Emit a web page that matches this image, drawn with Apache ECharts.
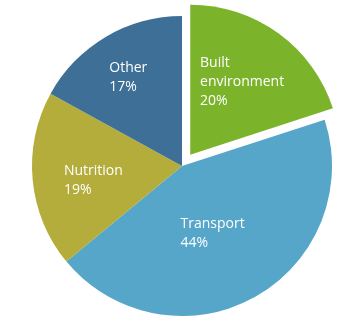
<!DOCTYPE html>
<html><head><meta charset="utf-8">
<script src="https://cdn.jsdelivr.net/npm/echarts@6/dist/echarts.min.js"></script>
<style>html,body{margin:0;padding:0;background:#fff}#c{width:338px;height:333px}</style>
</head><body><div id="c"></div>
<script>
const categories = ['Built\nenvironment', 'Transport', 'Nutrition', 'Other'];
const values = [20, 44, 19, 17];
const colors = ['#7bb42b', '#56a6c9', '#b4ad3b', '#3d6f97'];
const labelOffsets = [[6, -10], [-7, -1], [-11, 7], [-14, -21]];

const chart = echarts.init(document.getElementById('c'), null, {renderer: 'canvas'});
chart.setOption({
  animation: false,
  series: [{
    type: 'pie',
    center: [182, 166],
    radius: 150,
    startAngle: 90,
    clockwise: true,
    selectedMode: 'single',
    selectedOffset: 14,
    avoidLabelOverlap: false,
    emphasis: {disabled: true},
    label: {
      show: true,
      position: 'inside',
      color: '#ffffff',
      fontFamily: 'Open Sans',
      fontSize: 14,
      lineHeight: 19,
      formatter: p => '{a|' + p.name.split('\n').join('}\n{a|') + '}\n{a|' + p.value + '%}',
      rich: {a: {color: '#ffffff', fontFamily: 'Open Sans', fontSize: 14, lineHeight: 19, align: 'left'}}
    },
    labelLine: {show: false},
    data: categories.map((c, i) => ({
      name: c,
      value: values[i],
      selected: i === 0,
      itemStyle: {color: colors[i]},
      label: {offset: labelOffsets[i]},
      select: {itemStyle: {color: colors[i]}, label: {offset: labelOffsets[i]}}
    }))
  }]
});
</script></body></html>
